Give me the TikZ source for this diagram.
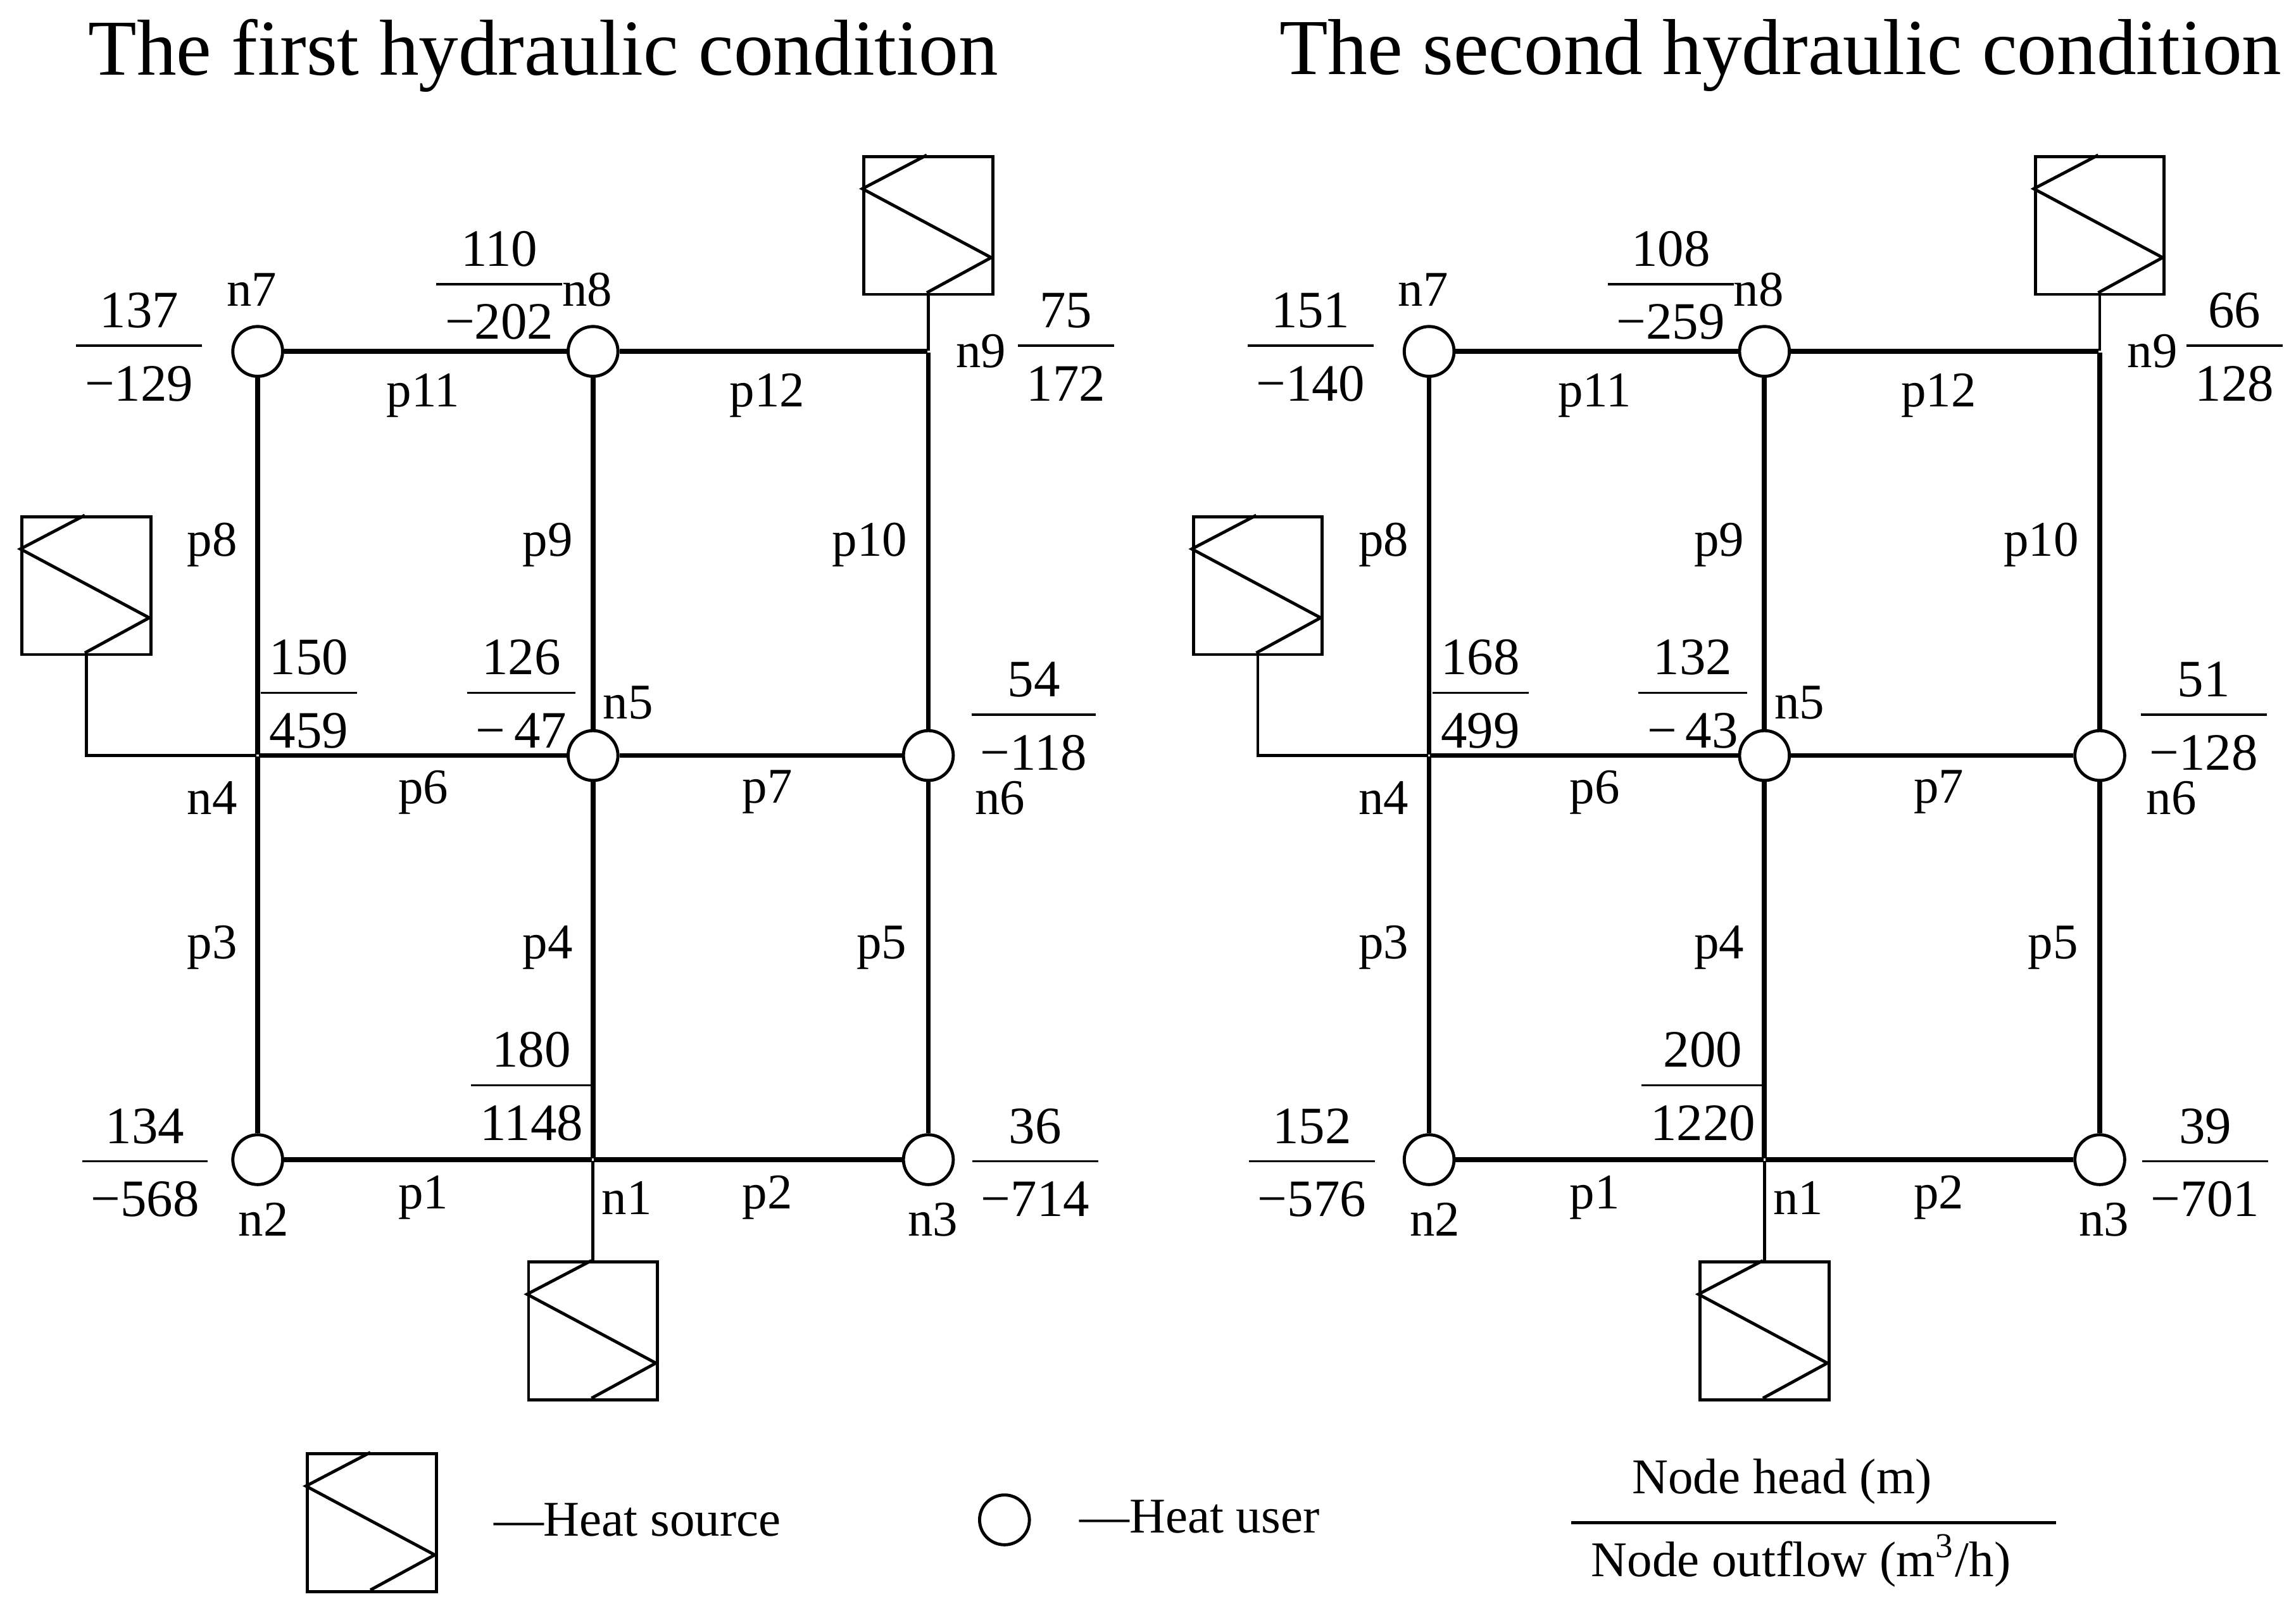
\documentclass[tikz,border=0pt]{standalone}
\usepackage{fontspec}
\setmainfont{Liberation Serif}
\begin{document}
\begin{tikzpicture}[x=0.01cm,y=-0.01cm,
  pipe/.style={line width=0.95pt},
  thin/.style={line width=0.6pt},
  user/.style={circle,draw,line width=0.6pt,fill=white,minimum size=0.34cm,inner sep=0pt},
  junc/.style={inner sep=0pt,minimum size=0pt},
  src/.style={draw,line width=0.6pt,minimum width=0.88cm,minimum height=0.94cm,inner sep=0pt},
  lab/.style={font=\fontsize{9.7}{11}\selectfont,inner sep=1pt},
  frc/.style={font=\fontsize{10.2}{11}\selectfont,inner sep=0pt},
  ttl/.style={font=\fontsize{15.4}{18}\selectfont}]
\useasboundingbox (0,0) rectangle (1568,1100);
\newcommand{\srcglyph}[1]{%
  \draw[thin] (#1.north west)++(44,0) -- ++(-44,23) -- ++(88,47) -- ++(-44,24);}
\newcommand{\fracval}[4]{\node[frc] at (#1,#2) {\renewcommand{\arraystretch}{1.0}\begin{tabular}{@{\,}c@{\,}}#3\\[0pt]\hline\rule{0pt}{10.5pt}#4\end{tabular}};}
\newcommand{\grid}[2]{%
 \begin{scope}[xshift=#1*0.01cm]
  \node[user] (n7#2) at (176,240) {};
  \node[user] (n8#2) at (405,240) {};
  \node[junc] (n9#2) at (634,240) {};
  \node[junc] (n4#2) at (176,516) {};
  \node[user] (n5#2) at (405,516) {};
  \node[user] (n6#2) at (634,516) {};
  \node[user] (n2#2) at (176,792) {};
  \node[junc] (n1#2) at (405,792) {};
  \node[user] (n3#2) at (634,792) {};
  \draw[pipe] (n7#2) -- (n8#2); \draw[pipe] (n8#2) -- (n9#2);
  \draw[pipe] (n4#2) -- (n5#2); \draw[pipe] (n5#2) -- (n6#2);
  \draw[pipe] (n2#2) -- (n1#2); \draw[pipe] (n1#2) -- (n3#2);
  \draw[pipe] (n7#2) -- (n4#2); \draw[pipe] (n4#2) -- (n2#2);
  \draw[pipe] (n8#2) -- (n5#2); \draw[pipe] (n5#2) -- (n1#2);
  \draw[pipe] (n9#2) -- (n6#2); \draw[pipe] (n6#2) -- (n3#2);
  \node[src] (sa#2) at (634,154) {}; \srcglyph{sa#2}
  \draw[thin] (sa#2) -- (n9#2);
  \node[src] (sb#2) at (59,400) {}; \srcglyph{sb#2}
  \coordinate (cb#2) at (59,516);
  \draw[thin] (sb#2) -- (cb#2) -- (n4#2);
  \node[src] (sc#2) at (405,909) {}; \srcglyph{sc#2}
  \draw[thin] (n1#2) -- (sc#2);
  \node[lab] at (172,198) {n7}; \node[lab] at (401,198) {n8};
  \node[lab] at (670,240) {n9}; \node[lab] at (145,545) {n4};
  \node[lab] at (429,480) {n5}; \node[lab] at (683,545) {n6};
  \node[lab] at (180,833) {n2}; \node[lab] at (428,818) {n1};
  \node[lab] at (637,833) {n3};
  \node[lab] at (289,270) {p11}; \node[lab] at (524,270) {p12};
  \node[lab] at (145,372) {p8}; \node[lab] at (374,372) {p9};
  \node[lab] at (594,372) {p10}; \node[lab] at (289,541) {p6};
  \node[lab] at (524,541) {p7}; \node[lab] at (145,647) {p3};
  \node[lab] at (374,647) {p4}; \node[lab] at (602,647) {p5};
  \node[lab] at (289,818) {p1}; \node[lab] at (524,818) {p2};
 \end{scope}}
\grid{0}{a}
\grid{800}{b}
\node[ttl] at (371,38) {The first hydraulic condition};
\node[ttl] at (1216,38) {The second hydraulic condition};
% left values
\fracval{95}{241}{137}{−129}
\fracval{341}{199}{110}{−202}
\fracval{728}{241}{75}{172}
\fracval{211}{478}{150}{459}
\fracval{356}{478}{126}{−\,47}
\fracval{706}{493}{54}{−118}
\fracval{363}{746}{180}{1148}
\fracval{99}{798}{134}{−568}
\fracval{707}{798}{36}{−714}
% right values
\fracval{895}{241}{151}{−140}
\fracval{1141}{199}{108}{−259}
\fracval{1526}{241}{66}{128}
\fracval{1011}{478}{168}{499}
\fracval{1156}{478}{132}{−\,43}
\fracval{1505}{493}{51}{−128}
\fracval{1163}{746}{200}{1220}
\fracval{896}{798}{152}{−576}
\fracval{1506}{798}{39}{−701}
% legend
\node[src] (ls) at (254,1040) {}; \srcglyph{ls}
\node[lab,anchor=west] at (333,1038) {—Heat source};
\node[user] (lu) at (686,1038) {};
\node[lab,anchor=west] at (733,1036) {—Heat user};
\node[lab] at (1217,1012) {Node head (m)};
\coordinate (fl) at (1073,1040); \coordinate (fr) at (1404,1040);
\draw[thin] (fl) -- (fr);
\node[lab] at (1230,1066) {Node outflow (m\textsuperscript{3}/h)};
\end{tikzpicture}
\end{document}
